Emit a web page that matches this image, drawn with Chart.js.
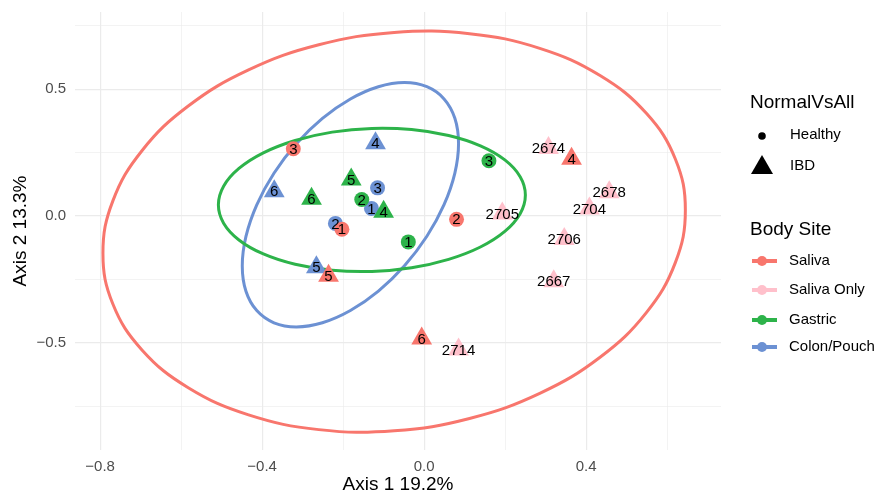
<!DOCTYPE html>
<html>
<head>
<meta charset="utf-8">
<script src="https://cdn.jsdelivr.net/npm/chart.js@4"></script>
<style>
  html, body { margin: 0; padding: 0; background: #ffffff; }
  #wrap { width: 881px; height: 496px; position: relative; }
</style>
</head>
<body>
<div id="wrap"><canvas id="pcoa"></canvas></div>
<script>
// Saliva
let salivaLabel = ['1', '2', '3', '4', '5', '6'];
let salivaX = [-0.203, 0.080, -0.323, 0.364, -0.236, -0.006];
let salivaY = [-0.052, -0.013, 0.265, 0.226, -0.235, -0.483];
let salivaShape = ['circle', 'circle', 'circle', 'triangle', 'triangle', 'triangle'];

// Saliva Only
let salivaOnlyLabel = ['2674', '2678', '2704', '2705', '2706', '2667', '2714'];
let salivaOnlyX = [0.307, 0.457, 0.408, 0.193, 0.346, 0.320, 0.085];
let salivaOnlyY = [0.268, 0.094, 0.030, 0.010, -0.091, -0.257, -0.526];
let salivaOnlyShape = ['triangle', 'triangle', 'triangle', 'triangle', 'triangle', 'triangle', 'triangle'];

// Gastric
let gastricLabel = ['1', '2', '3', '4', '5', '6'];
let gastricX = [-0.039, -0.154, 0.160, -0.100, -0.180, -0.278];
let gastricY = [-0.102, 0.065, 0.218, 0.017, 0.144, 0.068];
let gastricShape = ['circle', 'circle', 'circle', 'triangle', 'triangle', 'triangle'];

// Colon/Pouch
let colonLabel = ['1', '2', '3', '4', '5', '6'];
let colonX = [-0.130, -0.219, -0.115, -0.120, -0.266, -0.370];
let colonY = [0.030, -0.029, 0.111, 0.287, -0.202, 0.098];
let colonShape = ['circle', 'circle', 'circle', 'triangle', 'triangle', 'triangle'];

// 楕円 (読み取った輪郭の点。つなぎ目が角にならないよう両端を1点ずつ重ねる)
let salivaEllipseX = [0.6205, 0.645, 0.6205, 0.5487, 0.4344, 0.2855, 0.1121, -0.074, -0.2601, -0.4335, -0.5824, -0.6967, -0.7685,
  -0.793, -0.7685, -0.6967, -0.5824, -0.4335, -0.2601, -0.074, 0.1121, 0.2855, 0.4344, 0.5487, 0.6205, 0.645, 0.6205];
let salivaEllipseY = [-0.1826, 0.0235, 0.2238, 0.4046, 0.5536, 0.6608, 0.7187, 0.7235, 0.6747, 0.5758, 0.4334, 0.2574, 0.0596,
  -0.1465, -0.3468, -0.5276, -0.6766, -0.7838, -0.8417, -0.8465, -0.7977, -0.6988, -0.5564, -0.3804, -0.1826, 0.0235, 0.2238];

let gastricEllipseX = [0.2371, 0.250, 0.2371, 0.1992, 0.1390, 0.0605, -0.0309, -0.129, -0.2271, -0.3185, -0.3970, -0.4572, -0.4951,
  -0.508, -0.4951, -0.4572, -0.3970, -0.3185, -0.2271, -0.129, -0.0309, 0.0605, 0.1390, 0.1992, 0.2371, 0.250, 0.2371];
let gastricEllipseY = [0.0094, 0.083, 0.1552, 0.2213, 0.2766, 0.3173, 0.3407, 0.3453, 0.3307, 0.2977, 0.2490, 0.1875, 0.1176,
  0.044, -0.0282, -0.0943, -0.1496, -0.1903, -0.2137, -0.2183, -0.2037, -0.1707, -0.1220, -0.0605, 0.0094, 0.083, 0.1552];

let colonEllipseX = [0.0759, 0.085, 0.0759, 0.0492, 0.0068, -0.0485, -0.1129, -0.182, -0.2511, -0.3155, -0.3708, -0.4132, -0.4399,
  -0.449, -0.4399, -0.4132, -0.3708, -0.3155, -0.2511, -0.182, -0.1129, -0.0485, 0.0068, 0.0492, 0.0759, 0.085, 0.0759];
let colonEllipseY = [0.1694, 0.2855, 0.3852, 0.4616, 0.5096, 0.5260, 0.5095, 0.4613, 0.3847, 0.2850, 0.1688, 0.0442, -0.0804,
  -0.1965, -0.2962, -0.3726, -0.4206, -0.4370, -0.4205, -0.3723, -0.2957, -0.1960, -0.0798, 0.0448, 0.1694, 0.2855, 0.3852];

// 色
const COLOR_SALIVA = '#F8766D';
const COLOR_SALIVA_ONLY = '#FFC0CB';
const COLOR_GASTRIC = '#2DB34A';
const COLOR_COLON = '#6C91D3';

const FONT_FAMILY = '"Liberation Sans", Arial, Helvetica, sans-serif';
const GRID_COLOR = '#EBEBEB';

// 形ごとの大きさ
const SHAPE_RADIUS = { circle: 7.5, triangle: 12 };

function toPoints(xs, ys) {
  return xs.map((x, i) => ({ x: x, y: ys[i] }));
}

function pointDataset(name, xs, ys, shapes, labels, color, order) {
  return {
    label: name,
    data: toPoints(xs, ys),
    pointStyle: shapes,
    pointRadius: shapes.map(s => SHAPE_RADIUS[s]),
    pointBackgroundColor: color,
    pointBorderWidth: 0,
    showLine: false,
    order: order,
    textLabels: labels
  };
}

function ellipseDataset(name, xs, ys, color) {
  let last = xs.length - 1;
  return {
    label: name + ' ellipse',
    data: toPoints(xs, ys),
    showLine: true,
    borderColor: color,
    borderWidth: 3,
    pointRadius: 0,
    tension: 0.4,
    fill: false,
    order: 10,
    // 重ねた両端の区間は描かない
    segment: {
      borderColor: (c) => (c.p0DataIndex === 0 || c.p1DataIndex === last) ? 'rgba(0,0,0,0)' : undefined
    }
  };
}

function isMajor(v, step) {
  return Math.abs(Math.round(v / step) * step - v) < 1e-6;
}

function fmt(v) {
  let s = (Math.abs(v) < 1e-9 ? 0 : v).toFixed(1);
  return s.replace('-', '\u2212');
}

/*
  点の上の文字
*/
const labelPlugin = {
  id: 'labelPlugin',
  afterDatasetsDraw(chart) {
    const ctx = chart.ctx;
    ctx.save();
    ctx.fillStyle = '#000000';
    ctx.font = '15px ' + FONT_FAMILY;
    ctx.textAlign = 'center';
    ctx.textBaseline = 'middle';
    chart.data.datasets.forEach((ds, i) => {
      if (!ds.textLabels) return;
      const meta = chart.getDatasetMeta(i);
      meta.data.forEach((el, j) => {
        ctx.fillText(ds.textLabels[j], el.x, el.y + 1);
      });
    });
    ctx.restore();
  }
};

/*
  軸タイトルと凡例
*/
const decorPlugin = {
  id: 'decorPlugin',
  afterDraw(chart) {
    const ctx = chart.ctx;
    const area = chart.chartArea;
    ctx.save();
    ctx.fillStyle = '#000000';
    ctx.textBaseline = 'middle';

    // 軸タイトル
    ctx.font = '19px ' + FONT_FAMILY;
    ctx.textAlign = 'center';
    ctx.fillText('Axis 1 19.2%', (area.left + area.right) / 2, 485);
    ctx.save();
    ctx.translate(21, (area.top + area.bottom) / 2);
    ctx.rotate(-Math.PI / 2);
    ctx.fillText('Axis 2 13.3%', 0, 0);
    ctx.restore();

    // 凡例 NormalVsAll
    ctx.textAlign = 'left';
    ctx.font = '19px ' + FONT_FAMILY;
    ctx.fillText('NormalVsAll', 750, 103);
    ctx.font = '15px ' + FONT_FAMILY;
    ctx.fillText('Healthy', 790, 135);
    ctx.fillText('IBD', 790, 166);
    ctx.beginPath();
    ctx.arc(762, 136, 3.8, 0, Math.PI * 2);
    ctx.fill();
    ctx.beginPath();
    ctx.moveTo(762, 155);
    ctx.lineTo(773, 174);
    ctx.lineTo(751, 174);
    ctx.closePath();
    ctx.fill();

    // 凡例 Body Site
    ctx.font = '19px ' + FONT_FAMILY;
    ctx.fillText('Body Site', 750, 230);
    let sites = [
      { name: 'Saliva', color: COLOR_SALIVA, y: 261 },
      { name: 'Saliva Only', color: COLOR_SALIVA_ONLY, y: 290 },
      { name: 'Gastric', color: COLOR_GASTRIC, y: 320 },
      { name: 'Colon/Pouch', color: COLOR_COLON, y: 347 }
    ];
    ctx.font = '15px ' + FONT_FAMILY;
    sites.forEach(s => {
      ctx.strokeStyle = s.color;
      ctx.lineWidth = 4;
      ctx.beginPath();
      ctx.moveTo(752, s.y);
      ctx.lineTo(777, s.y);
      ctx.stroke();
      ctx.fillStyle = s.color;
      ctx.beginPath();
      ctx.arc(762, s.y, 5, 0, Math.PI * 2);
      ctx.fill();
      ctx.fillStyle = '#000000';
      ctx.fillText(s.name, 789, s.y);
    });
    ctx.restore();
  }
};

let pcoaChart = new Chart(document.getElementById('pcoa'), {
  type: 'scatter',
  data: {
    datasets: [
      ellipseDataset('Saliva', salivaEllipseX, salivaEllipseY, COLOR_SALIVA),
      ellipseDataset('Gastric', gastricEllipseX, gastricEllipseY, COLOR_GASTRIC),
      ellipseDataset('Colon/Pouch', colonEllipseX, colonEllipseY, COLOR_COLON),
      pointDataset('Colon/Pouch', colonX, colonY, colonShape, colonLabel, COLOR_COLON, 5),
      pointDataset('Gastric', gastricX, gastricY, gastricShape, gastricLabel, COLOR_GASTRIC, 4),
      pointDataset('Saliva', salivaX, salivaY, salivaShape, salivaLabel, COLOR_SALIVA, 3),
      pointDataset('Saliva Only', salivaOnlyX, salivaOnlyY, salivaOnlyShape, salivaOnlyLabel, COLOR_SALIVA_ONLY, 2)
    ]
  },
  options: {
    responsive: true,
    maintainAspectRatio: false,
    animation: false,
    layout: { padding: { left: 0, top: 10, right: 160, bottom: 0 } },
    plugins: {
      legend: { display: false },
      tooltip: { enabled: false }
    },
    scales: {
      x: {
        type: 'linear',
        min: -0.862,
        max: 0.733,
        afterFit: (scale) => {
          scale.height = 46;
          scale.paddingLeft = 0;
          scale.paddingRight = 0;
        },
        border: { display: false },
        grid: {
          drawTicks: false,
          color: GRID_COLOR,
          lineWidth: (c) => (c.tick && isMajor(c.tick.value, 0.4)) ? 1.2 : 0.6
        },
        ticks: {
          stepSize: 0.2,
          includeBounds: false,
          padding: 8,
          maxRotation: 0,
          autoSkip: false,
          color: '#4D4D4D',
          font: { size: 15, family: FONT_FAMILY },
          callback: (v) => isMajor(v, 0.4) ? fmt(v) : ''
        }
      },
      y: {
        type: 'linear',
        min: -0.922,
        max: 0.804,
        afterFit: (scale) => {
          scale.width = 75;
          scale.paddingTop = 0;
          scale.paddingBottom = 0;
        },
        border: { display: false },
        grid: {
          drawTicks: false,
          color: GRID_COLOR,
          lineWidth: (c) => (c.tick && isMajor(c.tick.value, 0.5)) ? 1.2 : 0.6
        },
        ticks: {
          stepSize: 0.25,
          includeBounds: false,
          padding: 9,
          autoSkip: false,
          color: '#4D4D4D',
          font: { size: 15, family: FONT_FAMILY },
          callback: (v) => isMajor(v, 0.5) ? fmt(v) : ''
        }
      }
    }
  },
  plugins: [labelPlugin, decorPlugin]
});
</script>
</body>
</html>
